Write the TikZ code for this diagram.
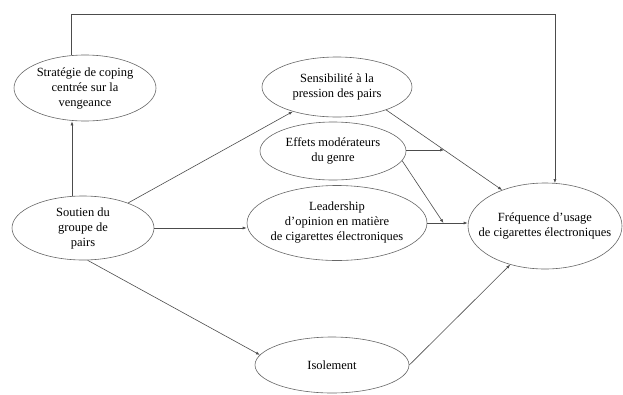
\documentclass[tikz,border=0pt]{standalone}
\usepackage{fontspec}
\setmainfont{Liberation Serif}
\usetikzlibrary{shapes.geometric, arrows.meta, calc}

\begin{document}
\begin{tikzpicture}[
        x=1pt, y=-1pt,
        font=\fontsize{12.5}{15}\selectfont,
        >={Latex[length=4pt,width=3pt]},
        oval/.style={
            draw=black!60,
            ellipse,
            semithick,
            align=center,
            inner xsep=-12pt,
            inner ysep=0pt
        }
    ]
    \useasboundingbox (0,0) rectangle (623,394);

    \node[oval, minimum width=142, minimum height=66] (strat) at (85,88) {Stratégie de coping\\centrée sur la\\vengeance};

    \node[oval, minimum width=150, minimum height=60] (sens) at (337,87) {Sensibilité à la\\pression des pairs};

    \node[oval, minimum width=146, minimum height=58] (effets) at (333,151) {Effets modérateurs\\du genre};

    \node[oval, minimum width=180, minimum height=75] (lead) at (337,223) {Leadership\\d'opinion en matière\\de cigarettes électroniques};

    \node[oval, minimum width=154, minimum height=86] (freq) at (545,226) {Fréquence d'usage\\de cigarettes électroniques};

    \node[oval, minimum width=142, minimum height=64] (soutien) at (83,228) {Soutien du\\groupe de\\pairs};

    \node[oval, minimum width=154, minimum height=56] (isol) at (332,365) {Isolement};

    \coordinate (top) at (0,14);
    \coordinate (m1) at ($(sens.-25)!0.5!(freq.140)$);
    \coordinate (m2) at ($(lead.east)!0.4!(lead.east -| freq.west)$);

    \draw[->, semithick, black!70] (strat.112) |- (freq.77 |- top) -- (freq.77);
    \draw[->, semithick, black!70] (soutien.109) -- (soutien.109 |- strat.south);
    \draw[->, semithick, black!70] (soutien) -- (sens);
    \draw[->, semithick, black!70] (soutien.east) -- (soutien.east -| lead.west);
    \draw[->, semithick, black!70] (soutien.-82) -- (isol.172);
    \draw[->, semithick, black!70] (sens.-25) -- (freq.140);
    \draw[->, semithick, black!70] (effets.east |- m1) -- (m1);
    \draw[->, semithick, black!70] (effets.-8) -- (m2);
    \draw[->, semithick, black!70] (lead.east) -- (lead.east -| freq.west);
    \draw[->, semithick, black!70] (isol.east) -- (freq.-132);
\end{tikzpicture}
\end{document}
